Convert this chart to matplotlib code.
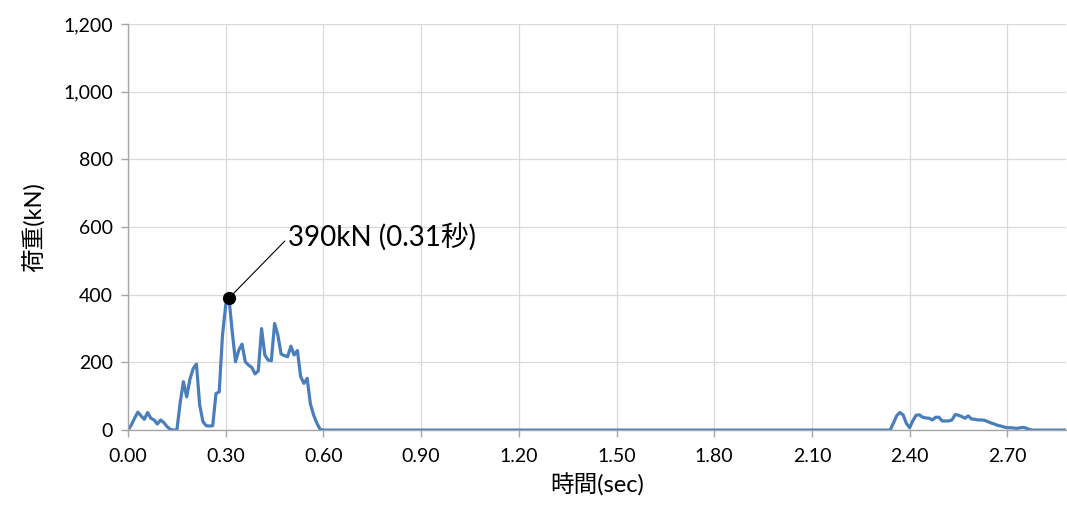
import numpy as np
import matplotlib.pyplot as plt
from matplotlib.ticker import FuncFormatter

plt.rcParams['font.family'] = ['Lato', 'Noto Sans CJK JP', 'DejaVu Sans']

# サンプリング間隔 0.01 秒
DT = 0.01
T_END = 2.88

# 第1波 (0.00〜0.60 秒)
burst1_start = 0.00
burst1 = [0, 15, 35, 53, 42, 32, 52, 35, 30, 18,
          30, 22, 10, 2, 0, 0, 80, 143, 98, 150,
          182, 195, 74, 25, 13, 12, 13, 108, 113, 280,
          370, 390, 290, 202, 236, 254, 202, 192, 185, 166,
          175, 300, 222, 207, 205, 315, 281, 225, 220, 217,
          248, 222, 235, 158, 138, 153, 77, 44, 20, 2, 0]

# 第2波 (2.33〜2.78 秒)
burst2_start = 2.33
burst2 = [0, 0, 20, 42, 52, 45, 20, 7, 28, 44,
          45, 38, 36, 35, 30, 38, 38, 27, 27, 27,
          30, 46, 44, 40, 35, 42, 33, 32, 30, 30,
          29, 25, 21, 18, 14, 12, 9, 7, 7, 6,
          5, 7, 8, 5, 1, 0]

peak_time = 0.31
peak_load = 390
peak_label = '390kN (0.31秒)'

xticks = [0.00, 0.30, 0.60, 0.90, 1.20, 1.50, 1.80, 2.10, 2.40, 2.70]
yticks = [0, 200, 400, 600, 800, 1000, 1200]

# 時系列を組み立てる (波の間は 0)
n = int(round(T_END / DT)) + 1
t = np.round(np.arange(n) * DT, 2)
load = np.zeros(n)
i1 = int(round(burst1_start / DT))
load[i1:i1 + len(burst1)] = burst1
i2 = int(round(burst2_start / DT))
load[i2:i2 + len(burst2)] = burst2

fig = plt.figure(figsize=(10.67, 5.09), dpi=100)
ax = fig.add_axes([0.12, 0.155, 0.879, 0.798])

ax.plot(t, load, color='#4A7EBB', lw=2.3, solid_joinstyle='round')

# 最大値の注記
ax.plot([peak_time], [peak_load], 'o', color='black', ms=8.5, zorder=5)
ax.annotate(peak_label, xy=(peak_time, peak_load), xytext=(0.49, 567),
            fontsize=20, va='center', ha='left',
            arrowprops=dict(arrowstyle='-', color='black', lw=0.8,
                            relpos=(0, 0.5), shrinkA=0, shrinkB=4))

ax.set_xlim(0, T_END)
ax.set_ylim(0, 1200)
ax.set_xticks(xticks)
ax.set_yticks(yticks)
ax.xaxis.set_major_formatter(FuncFormatter(lambda v, p: f'{v:.2f}'))
ax.yaxis.set_major_formatter(FuncFormatter(lambda v, p: f'{int(v):,}'))

ax.grid(True, color='#D9D9D9', lw=0.9)
ax.set_axisbelow(True)
for s in ['top', 'right']:
    ax.spines[s].set_visible(False)
for s in ['left', 'bottom']:
    ax.spines[s].set_color('#A6A6A6')
    ax.spines[s].set_linewidth(1.0)
ax.tick_params(axis='both', colors='#A6A6A6', labelcolor='black',
               labelsize=14, length=5, width=1, direction='out')
ax.tick_params(axis='x', pad=8)
ax.tick_params(axis='y', pad=6)

ax.set_xlabel('時間(sec)', fontsize=17, labelpad=6)
ax.set_ylabel('荷重(kN)', fontsize=17, labelpad=12)

fig.savefig('out.png', dpi=100)
